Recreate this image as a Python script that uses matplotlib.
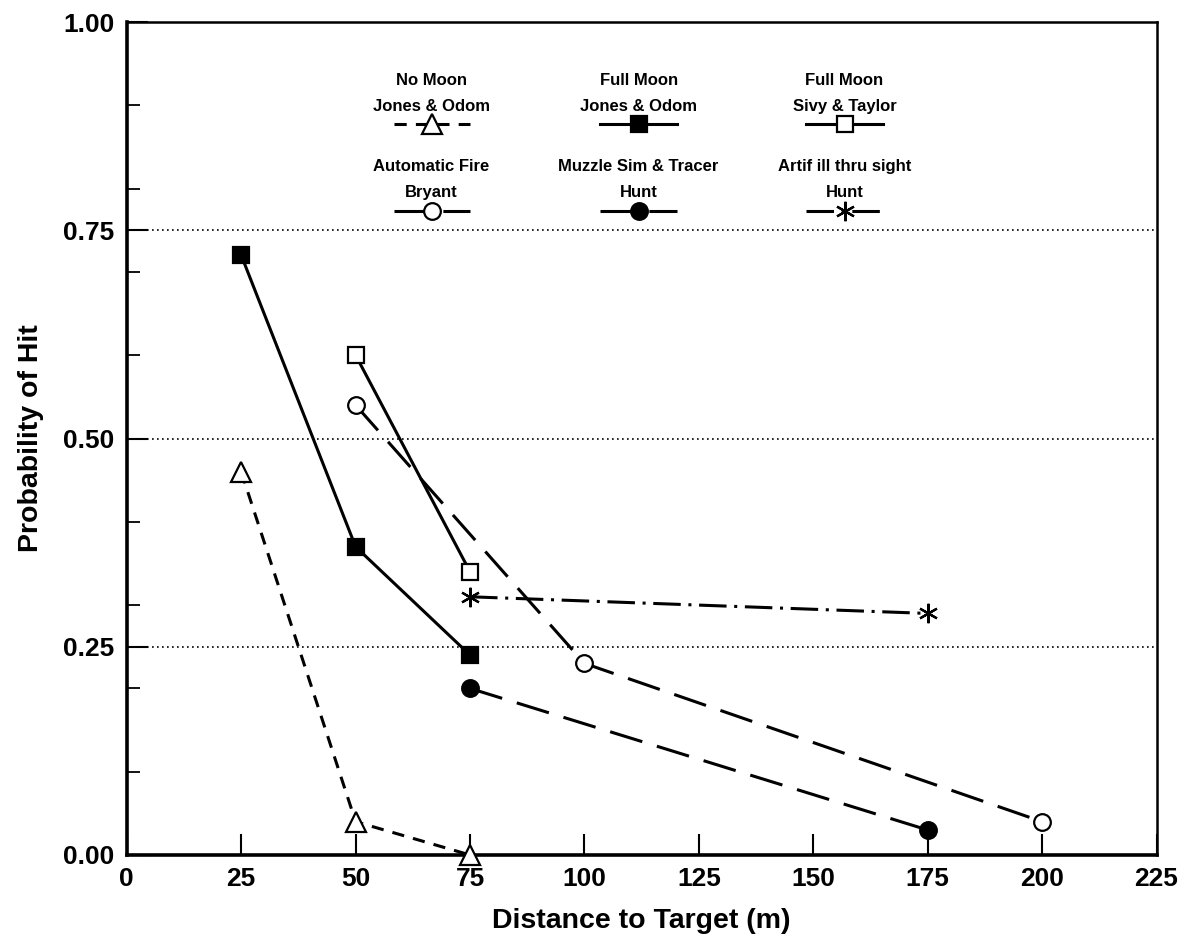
import matplotlib
matplotlib.use('Agg')
import matplotlib.pyplot as plt
from matplotlib.ticker import MultipleLocator, FormatStrFormatter

plt.rcParams['font.family'] = ['Liberation Sans', 'DejaVu Sans']

# data
no_moon_x = [25, 50, 75]
no_moon_y = [0.46, 0.04, 0.0]
full_moon_jo_x = [25, 50, 75]
full_moon_jo_y = [0.72, 0.37, 0.24]
full_moon_st_x = [50, 75]
full_moon_st_y = [0.60, 0.34]
auto_fire_x = [50, 100, 200]
auto_fire_y = [0.54, 0.23, 0.04]
muzzle_x = [75, 175]
muzzle_y = [0.20, 0.03]
artif_x = [75, 175]
artif_y = [0.31, 0.29]

legend_top = ['No Moon', 'Full Moon', 'Full Moon',
              'Automatic Fire', 'Muzzle Sim & Tracer', 'Artif ill thru sight']
legend_bottom = ['Jones & Odom', 'Jones & Odom', 'Sivy & Taylor',
                 'Bryant', 'Hunt', 'Hunt']

asterisk = (6, 2, 0)
series = [
    (no_moon_x, no_moon_y, dict(ls=(0, (4, 3)), marker='^', ms=14, mfc='white')),
    (full_moon_jo_x, full_moon_jo_y, dict(ls='-', marker='s', ms=12, mfc='black')),
    (full_moon_st_x, full_moon_st_y, dict(ls='-', marker='s', ms=11, mfc='white')),
    (auto_fire_x, auto_fire_y, dict(ls=(0, (11, 5)), marker='o', ms=12, mfc='white')),
    (muzzle_x, muzzle_y, dict(ls=(0, (11, 5)), marker='o', ms=12, mfc='black')),
    (artif_x, artif_y, dict(ls=(0, (9, 2.5, 1, 2.5)), marker=asterisk, ms=14, mfc='black')),
]

fig = plt.figure(figsize=(11.85, 9.41), dpi=100)
ax = fig.add_axes([0.107, 0.0914, 0.869, 0.8852])

for y in [0.25, 0.5, 0.75]:
    ax.axhline(y, color='black', lw=1.2, ls=(0, (1, 2)), zorder=1)

for xs, ys, st in series:
    ax.plot(xs, ys, color='black', lw=2.2, mec='black', mew=1.6,
            zorder=3, clip_on=False, **st)

# legend drawn as a 2 x 3 block of labels with sample lines below
col_x = [0.296, 0.497, 0.697]
row_y = [0.930, 0.826]
half = 0.037
for i, (xs, ys, st) in enumerate(series):
    cx = col_x[i % 3]
    ry = row_y[i // 3]
    ax.text(cx, ry, legend_top[i], transform=ax.transAxes, ha='center',
            va='center', fontsize=12, fontweight='bold')
    ax.text(cx, ry - 0.031, legend_bottom[i], transform=ax.transAxes,
            ha='center', va='center', fontsize=12, fontweight='bold')
    ax.plot([cx - half, cx, cx + half], [ry - 0.053] * 3,
            transform=ax.transAxes, color='black', lw=2.2, mec='black',
            mew=1.6, markevery=[1], clip_on=False, zorder=4, **st)

ax.set_xlim(0, 225)
ax.set_ylim(0, 1.0)
ax.xaxis.set_major_locator(MultipleLocator(25))
ax.yaxis.set_major_locator(MultipleLocator(0.25))
ax.yaxis.set_minor_locator(MultipleLocator(0.1))
ax.yaxis.set_major_formatter(FormatStrFormatter('%.2f'))

ax.tick_params(axis='both', which='major', direction='in', length=15,
               width=1.5, labelsize=19, pad=9)
ax.tick_params(axis='y', which='minor', direction='in', length=9, width=1.3)
ax.tick_params(top=False, right=False)
for lbl in ax.get_xticklabels() + ax.get_yticklabels():
    lbl.set_fontweight('bold')

for side in ['left', 'bottom']:
    ax.spines[side].set_linewidth(2.6)
for side in ['top', 'right']:
    ax.spines[side].set_linewidth(1.8)

ax.set_xlabel('Distance to Target (m)', fontsize=20.5, fontweight='bold',
              labelpad=12)
ax.set_ylabel('Probability of Hit', fontsize=20.5, fontweight='bold',
              labelpad=14)

plt.savefig('out.png', dpi=100)
plt.close()
